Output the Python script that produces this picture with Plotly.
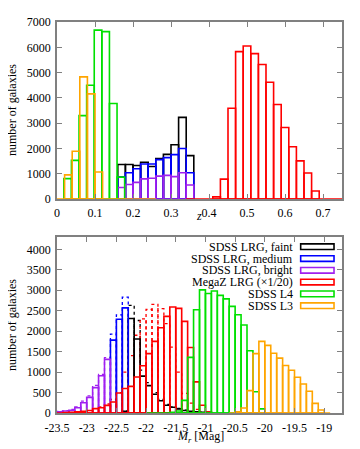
import plotly.graph_objects as go

# ---- top panel: redshift distributions (bin width 0.02) ----
Z_WIDTH = 0.02
Z_FAINT_START = 0.16
Z_FAINT = [1370, 1370, 1330, 1460, 1290, 1600, 1770, 2150, 3230, 1720]
Z_MEDIUM_START = 0.16
Z_MEDIUM = [880, 1040, 1200, 1390, 1390, 1560, 1640, 1760, 2000, 1040]
Z_BRIGHT_START = 0.16
Z_BRIGHT = [460, 580, 660, 800, 825, 910, 940, 890, 1040, 560]
Z_MEGAZ_START = 0.41
Z_MEGAZ = [90, 790, 3590, 5830, 6050, 5750, 5320, 4620, 3740, 2830, 2070, 1510, 1030, 320]
Z_L4_START = 0.018
Z_L4 = [810, 1530, 3300, 4500, 6680, 6620, 3780, 870]
Z_L3_START = 0.02
Z_L3 = [960, 1890, 4830, 4160, 1070]
# ranges where the empty bins of a sample show along the baseline
Z_MEGAZ_SPAN = [0.34, 0.75]
Z_L3_SPAN = [0.0, 0.26]

# ---- bottom panel: absolute magnitude distributions (bin width 0.1) ----
M_WIDTH = 0.1
M_FAINT_START = -22.4
M_FAINT = [40, 2310, 1810, 900, 670, 460, 300, 190, 140, 100, 60, 40, 30, 20, 10]
M_FAINT_DOT = [50, 2630, 2260, 1050, 740, 500, 330, 210, 150, 110, 70, 40, 30, 20, 10]
M_MEDIUM_START = -22.6
M_MEDIUM = [1780, 2290, 2570]
M_MEDIUM_DOT = [1930, 2400, 2830]
M_BRIGHT_START = -23.5
M_BRIGHT = [30, 50, 65, 130, 252, 383, 619, 912, 1311]
M_BRIGHT_DOT = [40, 60, 85, 150, 290, 420, 676, 945, 1352]
M_MEGAZ_START = -23.4
M_MEGAZ = [10, 20, 30, 40, 60, 106, 130, 187, 269, 489, 600, 651, 880, 1156, 1450,
           1750, 2085, 2361, 2590, 2557, 2240, 1600, 760, 190, 30]
M_MEGAZ_DOT_START = -22.8
M_MEGAZ_DOT = [150, 220, 330, 500, 1000, 1400, 1900, 2300, 2530, 2655, 2549, 2182,
               1612, 1000, 480, 240, 90]
M_L4_START = -21.6
M_L4 = [20, 50, 309, 1360, 2524, 3010, 2920, 2980, 2874, 2790, 2606, 2402, 2150,
        1520, 520, 100]
M_L3_START = -20.5
M_L3 = [30, 122, 546, 1450, 1750, 1653, 1460, 1340, 1160, 1045, 875, 710, 533, 236, 73]
M_MEGAZ_SPAN = [-23.5, -21.0]
M_L4_SPAN = [-22.0, -20.0]
M_L3_SPAN = [-20.6, -18.9]

LEGEND_LABELS = ["SDSS LRG, faint", "SDSS LRG, medium", "SDSS LRG, bright",
                 "MegaZ LRG (\u00d71/20)", "SDSS L4", "SDSS L3"]

Z_TICKS = [0, 0.1, 0.2, 0.3, 0.4, 0.5, 0.6, 0.7]
Z_TICKTEXT = ["0", "0.1", "0.2", "0.3", "0.4", "0.5", "0.6", "0.7"]
N1_TICKS = [0, 1000, 2000, 3000, 4000, 5000, 6000, 7000]
M_TICKS = [-23.5, -23, -22.5, -22, -21.5, -21, -20.5, -20, -19.5, -19]
M_TICKTEXT = ["-23.5", "-23", "-22.5", "-22", "-21.5", "-21", "-20.5", "-20", "-19.5", "-19"]
N2_TICKS = [0, 500, 1000, 1500, 2000, 2500, 3000, 3500, 4000]

BLACK = "#000000"
BLUE = "#0000ff"
PURPLE = "#a020f0"
RED = "#ff0000"
GREEN = "#00e000"
ORANGE = "#ffa500"
BORDER = "#808080"
FONT = "Liberation Serif, DejaVu Serif, serif"

# page body has an 8px margin, so the figure is shrunk and shifted by it
OFF = 8
W, H = 360 - OFF, 449 - OFF
ML, MR, MT, MB = 57 - OFF, 18, 22 - OFF, 36


def outline(start, width, counts):
    # rectangle outline for each histogram bin
    xs, ys = [], []
    for i, c in enumerate(counts):
        x0 = start + i * width
        x1 = x0 + width
        xs += [x0, x0, x1, x1, x0, None]
        ys += [0, c, c, 0, 0, None]
    return xs, ys


def hist(fig, start, width, counts, color, xa, ya, dash="solid", lw=1.6, span=None):
    xs, ys = outline(start, width, counts)
    if span is not None:
        xs += [span[0], span[1], None]
        ys += [0, 0, None]
    fig.add_trace(go.Scatter(
        x=xs, y=ys, mode="lines", xaxis=xa, yaxis=ya,
        line=dict(color=color, width=lw, dash=dash),
        showlegend=False, hoverinfo="skip",
    ))


def px(x, y):
    # screen pixel position -> paper coords
    x, y = x - OFF, y - OFF
    return (x - ML) / (W - ML - MR), (H - MB - y) / (H - MT - MB)


fig = go.Figure()

# top panel
hist(fig, Z_FAINT_START, Z_WIDTH, Z_FAINT, BLACK, "x", "y")
hist(fig, Z_MEDIUM_START, Z_WIDTH, Z_MEDIUM, BLUE, "x", "y")
hist(fig, Z_BRIGHT_START, Z_WIDTH, Z_BRIGHT, PURPLE, "x", "y")
hist(fig, Z_MEGAZ_START, Z_WIDTH, Z_MEGAZ, RED, "x", "y", span=Z_MEGAZ_SPAN)
hist(fig, Z_L4_START, Z_WIDTH, Z_L4, GREEN, "x", "y")
hist(fig, Z_L3_START, Z_WIDTH, Z_L3, ORANGE, "x", "y", span=Z_L3_SPAN)

# bottom panel
hist(fig, M_FAINT_START, M_WIDTH, M_FAINT_DOT, BLACK, "x2", "y2", dash="dot", lw=1.3)
hist(fig, M_MEDIUM_START, M_WIDTH, M_MEDIUM_DOT, BLUE, "x2", "y2", dash="dot", lw=1.3)
hist(fig, M_BRIGHT_START, M_WIDTH, M_BRIGHT_DOT, PURPLE, "x2", "y2", dash="dot", lw=1.3)
hist(fig, M_MEGAZ_DOT_START, M_WIDTH, M_MEGAZ_DOT, RED, "x2", "y2", dash="dot", lw=1.3)
hist(fig, M_FAINT_START, M_WIDTH, M_FAINT, BLACK, "x2", "y2")
hist(fig, M_MEDIUM_START, M_WIDTH, M_MEDIUM, BLUE, "x2", "y2")
hist(fig, M_BRIGHT_START, M_WIDTH, M_BRIGHT, PURPLE, "x2", "y2")
hist(fig, M_MEGAZ_START, M_WIDTH, M_MEGAZ, RED, "x2", "y2", span=M_MEGAZ_SPAN)
hist(fig, M_L4_START, M_WIDTH, M_L4, GREEN, "x2", "y2", span=M_L4_SPAN)
hist(fig, M_L3_START, M_WIDTH, M_L3, ORANGE, "x2", "y2", span=M_L3_SPAN)

# hand-made legend (text right, open box sample)
legend_colors = [BLACK, BLUE, PURPLE, RED, GREEN, ORANGE]
for i, (label, col) in enumerate(zip(LEGEND_LABELS, legend_colors)):
    yc = 0.945 - i * 0.067
    fig.add_annotation(
        text=label, xref="x2 domain", yref="y2 domain", x=0.832, y=yc,
        xanchor="right", yanchor="middle", showarrow=False, borderpad=0,
        font=dict(family=FONT, size=12, color="black"),
    )
    fig.add_shape(
        type="rect", xref="x2 domain", yref="y2 domain",
        x0=0.855, x1=0.972, y0=yc - 0.016, y1=yc + 0.016,
        line=dict(color=col, width=1.6), fillcolor="rgba(0,0,0,0)",
    )

# axis titles placed as annotations (screen pixel positions)
titles = [
    ("number of galaxies", 12, 110, -90),
    ("number of galaxies", 12, 325, -90),
    ("<i>z</i>", 199, 216, 0),
    ("<i>M</i><sub><i>r</i></sub> [Mag]", 200, 437, 0),
]
for text, tx, ty, ang in titles:
    ax_, ay_ = px(tx, ty)
    fig.add_annotation(
        text=text, xref="paper", yref="paper", x=ax_, y=ay_,
        xanchor="center", yanchor="middle", showarrow=False, textangle=ang,
        borderpad=0, font=dict(family=FONT, size=12, color="black"),
    )

axis_common = dict(
    showline=True, linecolor=BORDER, linewidth=1.5, mirror="allticks",
    ticks="inside", ticklen=5, tickcolor=BORDER, tickwidth=1,
    showgrid=False, zeroline=False, automargin=False,
    tickfont=dict(family=FONT, size=12, color="black"),
)

fig.update_layout(
    width=W, height=H,
    paper_bgcolor="white", plot_bgcolor="white",
    margin=dict(l=ML, r=MR, t=MT, b=MB),
    font=dict(family=FONT, size=12, color="black"),
    xaxis=dict(domain=[0, 1], anchor="y", range=[0, 0.75],
               tickvals=Z_TICKS, ticktext=Z_TICKTEXT, ticklabelstandoff=2,
               **axis_common),
    yaxis=dict(domain=[0.547, 1], anchor="x", range=[0, 7000],
               tickvals=N1_TICKS, ticklabelstandoff=2, **axis_common),
    xaxis2=dict(domain=[0, 1], anchor="y2", range=[-23.5, -18.7],
                tickvals=M_TICKS, ticktext=M_TICKTEXT, ticklabelstandoff=3,
                **axis_common),
    yaxis2=dict(domain=[0, 0.450], anchor="x2", range=[0, 4300],
                tickvals=N2_TICKS, ticklabelstandoff=2, **axis_common),
)

fig.write_html("out.html")
